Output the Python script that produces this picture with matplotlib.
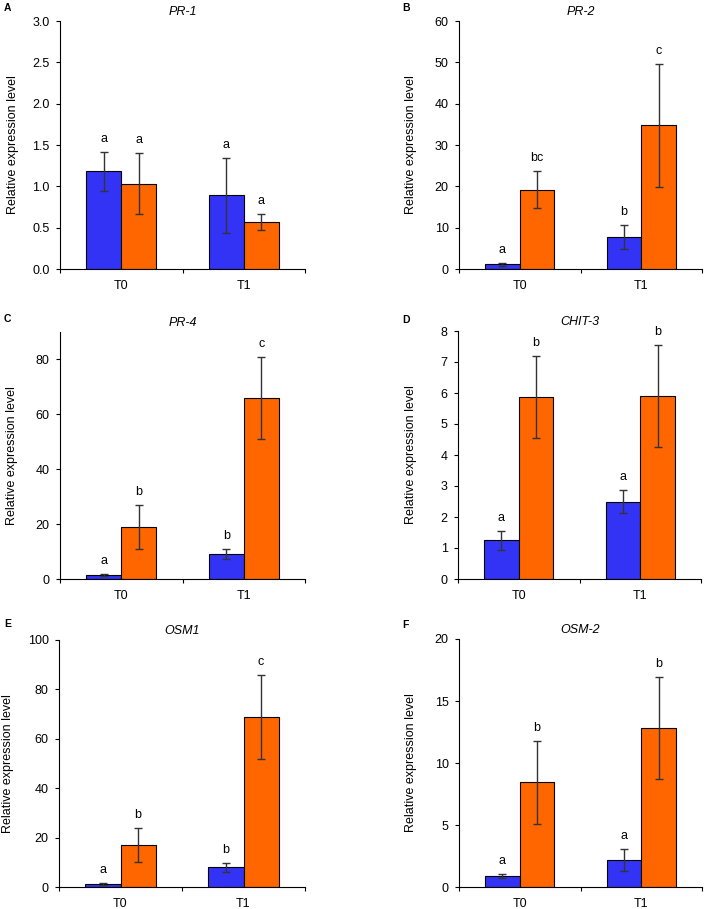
import matplotlib
matplotlib.use("Agg")
from matplotlib import pyplot as plt
import numpy as np

plt.rcParams["font.family"] = ["Liberation Sans", "DejaVu Sans"]

# Data
panels = ["A", "B", "C", "D", "E", "F"]
genes = ["PR-1", "PR-2", "PR-4", "CHIT-3", "OSM1", "OSM-2"]
times = ["T0", "T1"]

blue_vals = [[1.18, 0.89], [1.1, 7.7], [1.5, 9.0], [1.25, 2.5], [1.3, 8.0], [0.9, 2.2]]
blue_err = [[0.24, 0.45], [0.3, 2.9], [0.4, 1.8], [0.3, 0.37], [0.3, 1.9], [0.15, 0.87]]
orange_vals = [[1.03, 0.57], [19.2, 34.8], [19.1, 66.0], [5.87, 5.9], [17.0, 69.0], [8.45, 12.8]]
orange_err = [[0.37, 0.10], [4.5, 14.9], [8.0, 15.0], [1.33, 1.65], [7.0, 17.0], [3.35, 4.1]]
blue_letters = [["a", "a"], ["a", "b"], ["a", "b"], ["a", "a"], ["a", "b"], ["a", "a"]]
orange_letters = [["a", "a"], ["bc", "c"], ["b", "c"], ["b", "b"], ["b", "c"], ["b", "b"]]
y_max = [3.0, 60, 90, 8, 100, 20]
y_ticks = [np.arange(0, 3.01, 0.5), np.arange(0, 61, 10), np.arange(0, 81, 20),
           np.arange(0, 9, 1), np.arange(0, 101, 20), np.arange(0, 21, 5)]
y_fmt = ["%.1f", "%d", "%d", "%d", "%d", "%d"]

BLUE = "#3333f5"
ORANGE = "#ff6600"

W, H = 708, 909
# axes boxes in pixels: x0, x1, ytop, ybottom
boxes = [(60, 305, 21, 269), (459, 702, 21, 269),
         (60, 305, 332, 579), (458, 701, 331, 579),
         (59, 305, 640, 887), (459, 702, 639, 887)]
ylab_x = [-0.169, -0.173, -0.170, -0.169, -0.183, -0.173]
letter_pos = [(4, 8), (402, 8), (4, 319), (402, 320), (4, 624), (402, 625)]

fig = plt.figure(figsize=(W / 100, H / 100), dpi=100)

bw = 0.286
x = np.array([0.5, 1.5])
for i in range(6):
    x0, x1, yt, yb = boxes[i]
    ax = fig.add_axes([x0 / W, 1 - yb / H, (x1 - x0) / W, (yb - yt) / H])
    ekw = dict(ecolor="#333333", elinewidth=1.0, capsize=3, capthick=1.0)
    ax.bar(x - bw / 2, blue_vals[i], bw, yerr=blue_err[i], color=BLUE,
           edgecolor="black", linewidth=0.8, error_kw=ekw)
    ax.bar(x + bw / 2, orange_vals[i], bw, yerr=orange_err[i], color=ORANGE,
           edgecolor="black", linewidth=0.8, error_kw=ekw)
    for j in range(2):
        ax.annotate(blue_letters[i][j], (x[j] - bw / 2, blue_vals[i][j] + blue_err[i][j]),
                    xytext=(0, 5), textcoords="offset points", ha="center", va="bottom", fontsize=9)
        ax.annotate(orange_letters[i][j], (x[j] + bw / 2, orange_vals[i][j] + orange_err[i][j]),
                    xytext=(0, 5), textcoords="offset points", ha="center", va="bottom", fontsize=9)
    ax.set_xlim(0, 2)
    ax.set_ylim(0, y_max[i])
    ax.set_yticks(y_ticks[i])
    ax.set_yticklabels([y_fmt[i] % v for v in y_ticks[i]], fontsize=9)
    ax.set_xticks([0, 1, 2])
    ax.set_xticklabels([])
    ax.set_xticks(x, minor=True)
    ax.set_xticklabels(times, minor=True, fontsize=9)
    ax.tick_params(axis="x", which="minor", length=0, pad=8)
    ax.tick_params(axis="x", which="major", length=3, width=0.8, direction="out")
    ax.tick_params(axis="y", length=3, width=0.8, direction="out", pad=4.5)
    ax.spines["top"].set_visible(False)
    ax.spines["right"].set_visible(False)
    ax.spines["left"].set_linewidth(0.8)
    ax.spines["bottom"].set_linewidth(0.8)
    ax.set_ylabel("Relative expression level", fontsize=9)
    ax.yaxis.set_label_coords(ylab_x[i], 0.5)
    ax.set_title(genes[i], fontstyle="italic", fontsize=9, pad=4)
    lx, ly = letter_pos[i]
    fig.text(lx / W, 1 - ly / H, panels[i], fontsize=7.5, fontweight="bold", va="center", ha="left")

fig.savefig("out.png", dpi=100)
